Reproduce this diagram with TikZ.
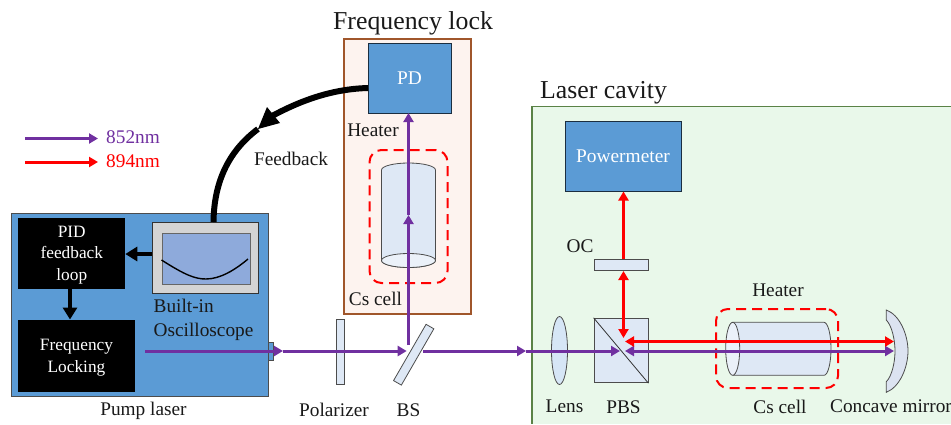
\documentclass[tikz,border=0pt]{standalone}
\usepackage{fontspec}
\setmainfont{Liberation Serif}
\usepackage{xcolor}
\definecolor{laserblue}{RGB}{91, 155, 213}
\definecolor{beampurple}{RGB}{112, 48, 160}
\definecolor{opticblue}{RGB}{222, 232, 245}
\definecolor{lensblue}{RGB}{214, 230, 246}
\definecolor{mirrorblue}{RGB}{220, 227, 241}
\definecolor{lockpink}{RGB}{253, 243, 239}
\definecolor{lockbrown}{RGB}{160, 86, 43}
\definecolor{cavitygreen}{RGB}{233, 248, 234}
\definecolor{cavityedge}{RGB}{90, 130, 70}
\definecolor{screenblue}{RGB}{142, 170, 219}
\usetikzlibrary{shapes, arrows.meta, positioning, calc}

\begin{document}
\begin{tikzpicture}[
    x=1pt, y=-1pt,
    label/.style={font=\fontsize{19.3}{21}\selectfont, inner sep=0pt, text=black!90},
    title/.style={font=\fontsize{25.8}{28}\selectfont, inner sep=0pt, text=black!90},
    blackbox/.style={rectangle, fill=black, text=white, align=center, inner sep=0pt, font=\fontsize{17.3}{21.5}\selectfont},
    bluebox/.style={rectangle, draw=black!70!laserblue, line width=0.8pt, fill=laserblue, text=white, inner sep=0pt, font=\fontsize{19.4}{21}\selectfont},
    optic/.style={draw=black!70, line width=0.8pt, fill=opticblue, inner sep=0pt},
    heater/.style={draw=red, dash pattern=on 10pt off 6pt, line width=2pt, rounded corners=12pt},
    purplebeam/.style={draw=beampurple, line width=3pt, -{Triangle[length=9pt,width=10pt]}},
    redbeam/.style={draw=red, line width=3pt, -{Triangle[length=9pt,width=10pt]}},
    ctrl/.style={draw=black, line width=3.6pt}
]
    \useasboundingbox (0,0) rectangle (951,424);

    % pump laser
    \node[rectangle, draw=black!70, line width=0.8pt, fill=laserblue, minimum width=257pt, minimum height=183pt, inner sep=0pt] (laser) at (139.5, 304.5) {};
    \node[optic, fill=laserblue, minimum width=5pt, minimum height=18pt] (port) at (270.5, 351) {};
    \node[blackbox, minimum width=107pt, minimum height=71pt] (pid) at (71.8, 253.7) {};
    \node[blackbox] (pidtext) at (71.8, 255) {PID\\feedback\\loop};
    \node[blackbox, minimum width=117pt, minimum height=72pt] (locking) at (76.5, 355.5) {};
    \node[blackbox] (lockingtext) at (76.5, 357.5) {Frequency\\Locking};
    \node[rectangle, draw=black!80, line width=0.8pt, fill=black!17, minimum width=106pt, minimum height=71pt, inner sep=0pt] (scope) at (205.7, 257.5) {};
    \node[rectangle, draw=black!60, line width=0.8pt, fill=screenblue, minimum width=88pt, minimum height=51pt, inner sep=0pt] (screen) at (206.5, 258.5) {};
    \draw[line width=1.4pt] (161.5, 260) .. controls (185, 275) and (195, 279) .. (206, 279) .. controls (220, 279) and (235, 270) .. (248, 259);
    \node[label, anchor=north west, align=left] (builtin) at (153.5, 299) {Built-in\\[2.5pt]Oscilloscope};
    \node[label] (pumplabel) at (143.5, 410.5) {Pump laser};
    \coordinate (scopeout) at (152, 254);
    \coordinate (pidin) at (125.3, 254);
    \coordinate (pidout) at (70, 289);
    \coordinate (lockingin) at (70, 319.5);
    \draw[ctrl, -{Triangle[length=12pt,width=14pt]}] (scopeout) -- (pidin);
    \draw[ctrl, -{Triangle[length=12pt,width=14pt]}] (pidout) -- (lockingin);

    % frequency lock
    \node[rectangle, draw=lockbrown, line width=1.2pt, fill=lockpink, minimum width=127pt, minimum height=275pt, inner sep=0pt] (lockbox) at (407.5, 176.5) {};
    \node[title] (locktitle) at (413, 23) {Frequency lock};
    \node[bluebox, minimum width=83pt, minimum height=70pt] (pd) at (409.5, 78.5) {PD};
    \node[label] (lockheater) at (373, 130) {Heater};
    \node[label] (lockcell) at (375.5, 299) {Cs cell};
    \draw[optic] (381.5, 170) arc[start angle=180, end angle=360, x radius=27, y radius=7] -- (435.5, 260.5) arc[start angle=0, end angle=180, x radius=27, y radius=7] -- cycle;
    \draw[optic, fill=opticblue!60!white] (408.5, 260.5) ellipse[x radius=27, y radius=7];
    \node[heater, minimum width=78pt, minimum height=133pt] (lockdash) at (408.5, 216.5) {};

    % laser cavity
    \fill[cavitygreen] (532, 106.5) rectangle (951, 424);
    \draw[cavityedge, line width=1.2pt] (951, 106.5) -- (532, 106.5) -- (532, 424);
    \node[title] (cavitytitle) at (603.5, 93) {Laser cavity};
    \node[bluebox, minimum width=116pt, minimum height=70pt] (power) at (623, 156) {Powermeter};
    \node[optic, minimum width=54pt, minimum height=11.5pt] (oc) at (621, 265) {};
    \node[label] (oclabel) at (580, 246) {OC};
    \node[optic, ellipse, fill=lensblue, minimum width=16pt, minimum height=68pt] (lens) at (559.5, 350.5) {};
    \node[optic, minimum width=54pt, minimum height=64.5pt] (pbs) at (621, 350.5) {};
    \draw[line width=0.8pt, black!80] (pbs.north west) -- (pbs.south east);
    \node[label] (lenslabel) at (564.5, 406.5) {Lens};
    \node[label] (pbslabel) at (623.5, 407) {PBS};
    \draw[optic] (732.7, 322.3) -- (824, 322.3) arc[start angle=-90, end angle=90, x radius=7, y radius=26.5] -- (732.7, 375.3);
    \draw[optic, fill=opticblue!60!white] (732.7, 348.8) ellipse[x radius=7, y radius=26.5];
    \node[heater, minimum width=122pt, minimum height=79pt] (cavdash) at (777, 348.5) {};
    \node[label] (cavheater) at (778, 290) {Heater};
    \node[label] (cavcell) at (780, 407) {Cs cell};
    \draw[optic, fill=mirrorblue] (886.3, 310) .. controls (900, 315) and (908, 335) .. (908, 351) .. controls (908, 367) and (900, 387) .. (886.3, 392.3) -- (886.3, 381.7) .. controls (892, 376) and (895, 362) .. (895, 351) .. controls (895, 340) and (892, 326) .. (886.3, 320) -- cycle;
    \node[label, anchor=west] (mirrorlabel) at (830, 406.5) {Concave mirror};

    % elements on the beam line
    \node[optic, minimum width=8.6pt, minimum height=64.5pt] (polarizer) at (340.3, 352) {};
    \node[optic, minimum width=9pt, minimum height=65pt, rotate=-30] (bs) at (413.7, 354.7) {};
    \node[label] (pollabel) at (334, 410) {Polarizer};
    \node[label] (bslabel) at (408.5, 410) {BS};

    % beams
    \coordinate (laserout) at (145, 351);
    \coordinate (portout) at (283, 351);
    \coordinate (bsin) at (406.7, 351);
    \coordinate (bsout) at (423, 351);
    \coordinate (bsup) at (408.5, 345);
    \coordinate (cellmid) at (408.5, 215);
    \coordinate (pdin) at (408.5, 113);
    \coordinate (cavin) at (526, 351);
    \coordinate (pbsin) at (620, 351);
    \coordinate (pbsback) at (625, 351);
    \coordinate (redback) at (625, 341.5);
    \coordinate (mirrorpurple) at (894, 351);
    \coordinate (mirrorred) at (894, 341.5);
    \coordinate (reddown) at (623.5, 338);
    \coordinate (ocdown) at (623.5, 271);
    \coordinate (ocup) at (623.5, 259);
    \coordinate (powerin) at (623.5, 191.5);
    \draw[purplebeam] (laserout) -- (portout);
    \draw[purplebeam] (portout) -- (bsin);
    \draw[purplebeam] (bsup) -- (cellmid);
    \draw[purplebeam] (cellmid) -- (pdin);
    \draw[purplebeam] (bsout) -- (cavin);
    \draw[purplebeam] (cavin) -- (pbsin);
    \draw[purplebeam, {Triangle[length=9pt,width=10pt]}-{Triangle[length=9pt,width=10pt]}] (pbsback) -- (mirrorpurple);
    \draw[redbeam, {Triangle[length=9pt,width=10pt]}-{Triangle[length=9pt,width=10pt]}] (redback) -- (mirrorred);
    \draw[redbeam, {Triangle[length=9pt,width=10pt]}-{Triangle[length=9pt,width=10pt]}] (ocdown) -- (reddown);
    \draw[redbeam] (ocup) -- (powerin);

    % feedback
    \coordinate (pdout) at (368, 88);
    \coordinate (scopein) at (213.5, 222);
    \coordinate (fbtip) at (258, 129);
    \coordinate (fbback) at (272, 116);
    \coordinate (fbcornera) at (267, 107);
    \coordinate (fbcornerb) at (280, 123);
    \draw[ctrl, line width=6pt] (pdout) .. controls (330, 89) and (298, 102) .. (fbback);
    \draw[ctrl, line width=6pt] (fbtip) .. controls (230, 150) and (214, 180) .. (scopein);
    \fill[black] (fbtip) -- (fbcornera) -- (fbcornerb) -- cycle;
    \node[label] (fblabel) at (291, 159) {Feedback};

    % legend
    \coordinate (purplestart) at (25, 138.5);
    \coordinate (purpleend) at (98, 138.5);
    \coordinate (redstart) at (25, 162);
    \coordinate (redend) at (98, 162);
    \draw[purplebeam] (purplestart) -- (purpleend);
    \draw[redbeam] (redstart) -- (redend);
    \node[label, text=beampurple, anchor=west] (purplelabel) at (106, 137) {852nm};
    \node[label, text=red, anchor=west] (redlabel) at (106, 161) {894nm};

\end{tikzpicture}
\end{document}
